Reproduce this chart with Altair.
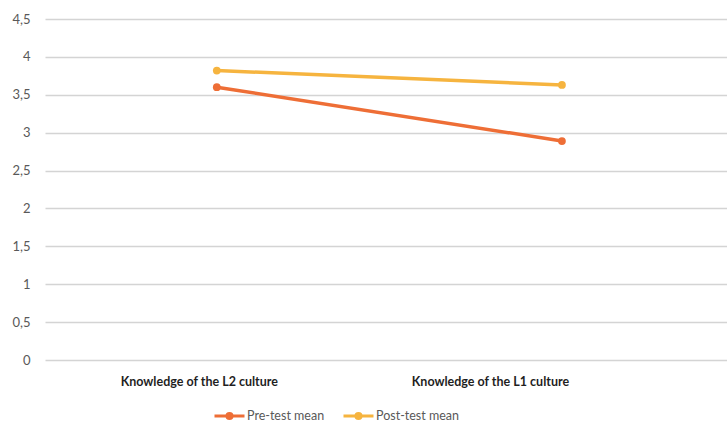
import altair as alt
import pandas as pd

categories = ["Knowledge of the L2 culture", "Knowledge of the L1 culture"]
pre_test = [3.60, 2.89]
post_test = [3.82, 3.63]
series_names = ["Pre-test mean", "Post-test mean"]
series_colors = ["#EE6E36", "#F6B43F"]

rows = []
for name, values in zip(series_names, [pre_test, post_test]):
    for cat, v in zip(categories, values):
        rows.append({"category": cat, "series": name, "value": v})
df = pd.DataFrame(rows)

# legend key: a short line with a dot in the middle
key_path = ("M-1,0L1,0"
            "M-0.17,0A0.17,0.17 0 1,0 0.17,0A0.17,0.17 0 1,0 -0.17,0")

x = alt.X("category:N", sort=categories,
          scale=alt.Scale(type="point", padding=0.488, align=0.51),
          axis=alt.Axis(title=None, labelAngle=0, ticks=False, domain=False,
                        labelFont="Lato", labelFontWeight="bold",
                        labelFontSize=12.5, labelColor="#1f1f1f",
                        labelOffset={"condition": {"test": f"datum.value == '{categories[1]}'",
                                                   "value": -72},
                                     "value": -18},
                        labelPadding=15, grid=False))
y = alt.Y("value:Q",
          scale=alt.Scale(domain=[0, 4.5], nice=False),
          axis=alt.Axis(title=None, values=[i * 0.5 for i in range(10)],
                        labelExpr="replace(format(datum.value, '~g'), '.', ',')",
                        ticks=False, domain=False, labelPadding=15,
                        labelFont="Lato", labelFontSize=13, labelColor="#595959",
                        gridColor="#D4D4D4", gridWidth=1.5))
color = alt.Color("series:N", sort=series_names,
                  scale=alt.Scale(domain=series_names, range=series_colors),
                  legend=alt.Legend(title=None, orient="none", direction="horizontal",
                                    legendX=168, legendY=380,
                                    symbolType=key_path, symbolSize=900,
                                    symbolStrokeWidth=3,
                                    labelFont="Lato", labelFontSize=12.5,
                                    labelColor="#595959", labelOffset=1,
                                    columnPadding=12))

base = alt.Chart(df)
lines = base.mark_line(strokeWidth=3.5).encode(x=x, y=y, color=color)
points = base.mark_circle(size=60, opacity=1).encode(
    x=x, y=y, color=alt.Color("series:N", scale=alt.Scale(domain=series_names, range=series_colors), legend=None))

chart = (lines + points).properties(
    width=682, height=341,
    autosize=alt.AutoSizeParams(type="none"),
    padding={"left": 45, "top": 19, "right": 0, "bottom": 62},
    background="white",
).configure_view(stroke=None)

chart.save("out.html", embed_options={"renderer": "svg", "actions": False})
